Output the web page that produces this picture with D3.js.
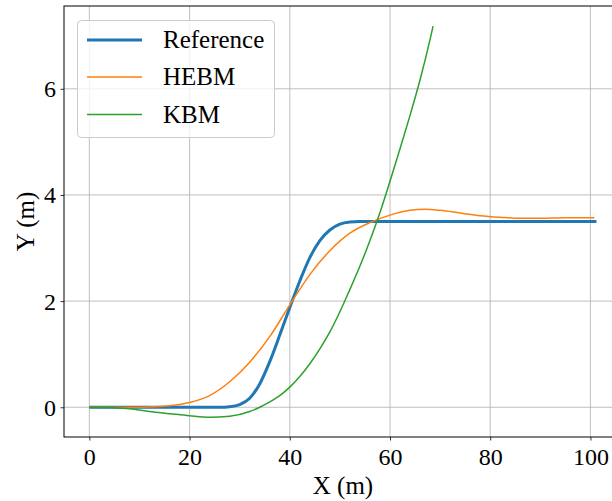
<!DOCTYPE html>
<html>
<head>
<meta charset="utf-8">
<script src="https://cdn.jsdelivr.net/npm/d3@7"></script>
<style>
  html, body { margin: 0; padding: 0; background: #fff; overflow: hidden; }
  svg { display: block; }
  text { font-family: "Liberation Serif", "DejaVu Serif", serif; fill: #000; }
</style>
</head>
<body>
<svg id="chart" width="612" height="501"></svg>
<script>
// ---- data ----
const refX  = [0, 26, 28, 30, 32, 34, 36, 38, 40, 42, 44, 46, 48, 50, 52, 54, 101.2];
const refY  = [0, 0, 0.01, 0.05, 0.17, 0.44, 0.86, 1.36, 1.88, 2.38, 2.82, 3.14, 3.34, 3.45, 3.49, 3.5, 3.5];

const hebmX = [0, 4, 8, 12, 16, 20, 24, 28, 32, 36, 40, 44, 48, 52, 56, 60, 64, 67, 70, 74, 78, 82, 86, 90, 95, 100.8];
const hebmY = [0, 0, 0, 0.005, 0.03, 0.09, 0.22, 0.48, 0.85, 1.33, 1.93, 2.5, 2.95, 3.28, 3.48, 3.62, 3.71, 3.73, 3.71, 3.66, 3.61, 3.58, 3.56, 3.56, 3.57, 3.57];

const kbmX  = [0, 4, 8, 12, 16, 20, 24, 28, 32, 34, 36, 38, 40, 42, 44, 46, 48, 50, 52, 54, 56, 58, 60, 62, 64, 66, 68, 68.6];
const kbmY  = [0, -0.005, -0.03, -0.08, -0.12, -0.16, -0.19, -0.17, -0.08, 0.0, 0.1, 0.22, 0.38, 0.58, 0.82, 1.1, 1.42, 1.8, 2.22, 2.66, 3.14, 3.67, 4.26, 4.87, 5.5, 6.17, 6.93, 7.18];

const seriesNames  = ["Reference", "HEBM", "KBM"];
const seriesColors = ["#1f77b4", "#ff7f0e", "#2ca02c"];
const seriesWidths = [3, 1.5, 1.5];

const xTicks = [0, 20, 40, 60, 80, 100];
const yTicks = [0, 2, 4, 6];
const xDomain = [-5.06, 106.3];
const yDomain = [-0.56, 7.56];

// ---- layout ----
const svg = d3.select("#chart");
const L = 64, T = 6, B = 437, R = 622;
const x = d3.scaleLinear().domain(xDomain).range([L, R]);
const y = d3.scaleLinear().domain(yDomain).range([B, T]);

svg.append("defs").append("clipPath").attr("id", "clip")
  .append("rect").attr("x", L).attr("y", T).attr("width", R - L).attr("height", B - T);

// grid
const grid = svg.append("g");
grid.selectAll(".gx").data(xTicks).enter().append("line")
  .attr("x1", d => x(d)).attr("x2", d => x(d)).attr("y1", T).attr("y2", B)
  .attr("stroke", "#b0b0b0").attr("stroke-width", 0.8);
grid.selectAll(".gy").data(yTicks).enter().append("line")
  .attr("x1", L).attr("x2", R).attr("y1", d => y(d)).attr("y2", d => y(d))
  .attr("stroke", "#b0b0b0").attr("stroke-width", 0.8);

// series
const series = [
  { xs: refX, ys: refY },
  { xs: hebmX, ys: hebmY },
  { xs: kbmX, ys: kbmY }
];
const line = d3.line().x(d => x(d[0])).y(d => y(d[1])).curve(d3.curveMonotoneX);
const plot = svg.append("g").attr("clip-path", "url(#clip)");
series.forEach((s, i) => {
  const pts = s.xs.map((v, k) => [v, s.ys[k]]);
  plot.append("path").datum(pts).attr("d", line)
    .attr("fill", "none").attr("stroke", seriesColors[i])
    .attr("stroke-width", seriesWidths[i]).attr("stroke-linejoin", "round");
});

// axes
const xAxis = d3.axisBottom(x).tickValues(xTicks).tickSize(3.5).tickPadding(5).tickFormat(d3.format("d"));
const yAxis = d3.axisLeft(y).tickValues(yTicks).tickSize(3.5).tickPadding(5).tickFormat(d3.format("d"));
const gx = svg.append("g").attr("transform", `translate(0,${B})`).call(xAxis);
const gy = svg.append("g").attr("transform", `translate(${L},0)`).call(yAxis);
[gx, gy].forEach(g => {
  g.select(".domain").remove();
  g.selectAll(".tick line").attr("stroke", "#000").attr("stroke-width", 0.8);
  g.selectAll(".tick text").style("font-family", '"Liberation Serif", serif').style("font-size", "24px").attr("fill", "#000");
});
gx.selectAll(".tick text").attr("dy", null).attr("y", 28);
gy.selectAll(".tick text").attr("dy", "0.33em").attr("x", -8);

// spines
svg.append("rect").attr("x", L).attr("y", T).attr("width", R - L).attr("height", B - T)
  .attr("fill", "none").attr("stroke", "#000").attr("stroke-width", 1);

// axis labels
svg.append("text").attr("x", (L + R) / 2).attr("y", 494).attr("text-anchor", "middle")
  .style("font-size", "25px").text("X (m)");
svg.append("text").attr("transform", `translate(34,${(T + B) / 2}) rotate(-90)`).attr("text-anchor", "middle")
  .style("font-size", "25px").text("Y (m)");

// legend
const lg = svg.append("g");
lg.append("rect").attr("x", 77.5).attr("y", 20.5).attr("width", 197).attr("height", 117)
  .attr("rx", 4).attr("fill", "#fff").attr("fill-opacity", 0.8)
  .attr("stroke", "#cccccc").attr("stroke-width", 1);
const rowY = [40, 77, 114.5];
seriesNames.forEach((n, i) => {
  lg.append("line").attr("x1", 87).attr("x2", 142).attr("y1", rowY[i]).attr("y2", rowY[i])
    .attr("stroke", seriesColors[i]).attr("stroke-width", seriesWidths[i]);
  lg.append("text").attr("x", 163).attr("y", rowY[i] + 8).style("font-size", "25px").text(n);
});
</script>
</body>
</html>
